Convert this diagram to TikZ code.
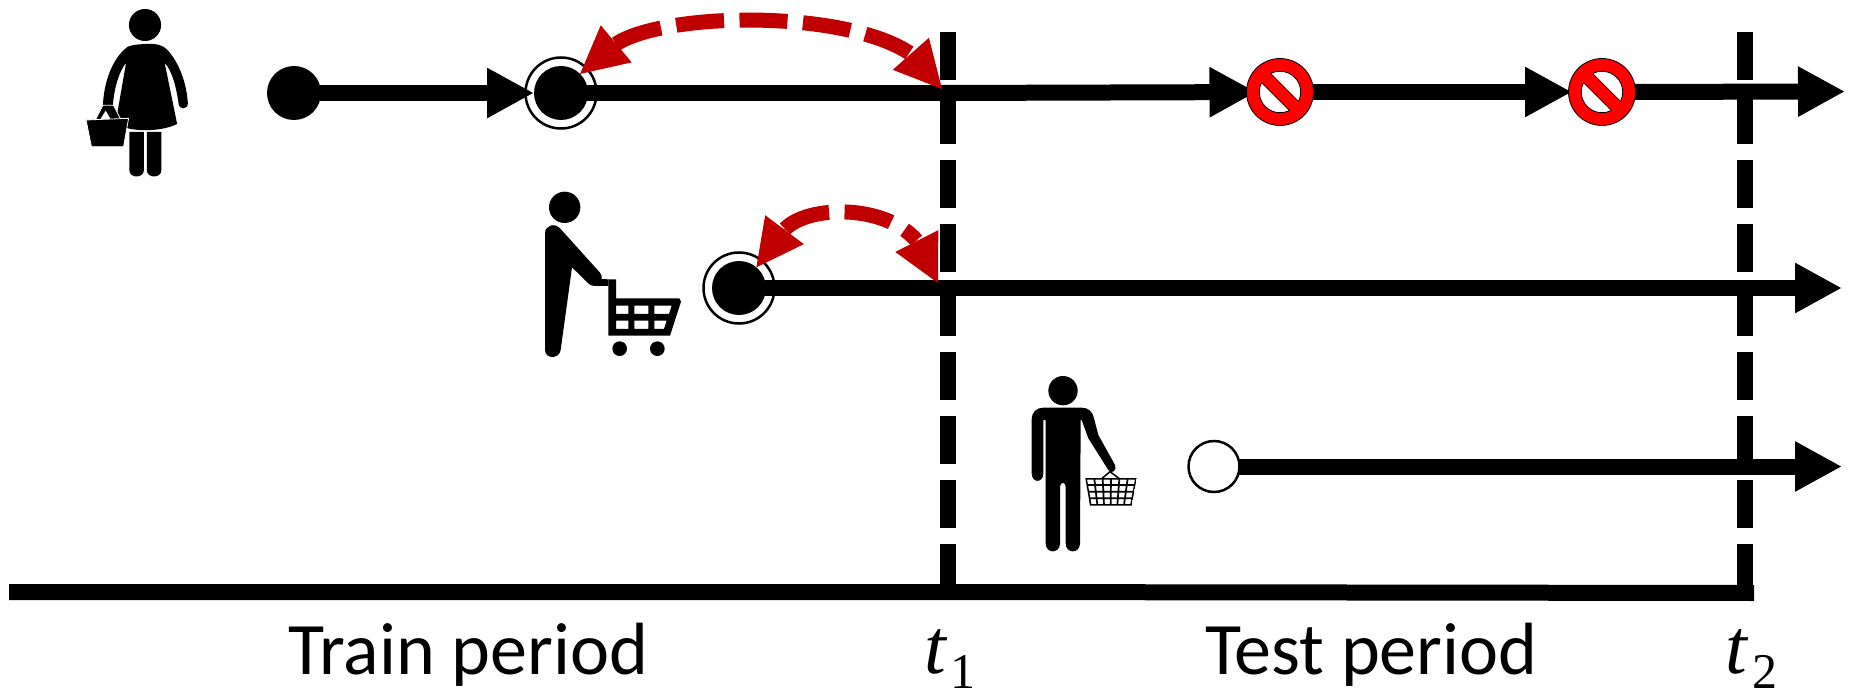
\documentclass[tikz,border=0pt]{standalone}
\usepackage{fontspec}
\newfontfamily\labelfont{Carlito}
\newfontfamily\varfont{Liberation Serif}
\usetikzlibrary{arrows.meta,shapes.geometric}
\definecolor{darkred}{HTML}{C00000}
\definecolor{signred}{HTML}{FF0000}
\tikzset{
  tl/.style={line width=16pt,draw=black,shorten <=-1.2pt},
  tlarrow/.style={tl,-{Triangle[length=47pt,width=47pt]}},
  period/.style={line width=16pt,draw=black,dash pattern=on 48pt off 16pt},
  dot/.style={circle,fill=black,inner sep=0pt,outer sep=0pt,minimum size=54pt},
  ring/.style={circle,draw=black,line width=2.5pt,fill=white,inner sep=0pt,outer sep=0pt,minimum size=71pt},
  opendot/.style={circle,draw=black,line width=2.5pt,fill=white,inner sep=0pt,outer sep=0pt,minimum size=51pt},
  signspot/.style={circle,inner sep=0pt,outer sep=0pt,minimum size=67pt},
  nosign/.style={circle,draw=black,line width=.8pt,fill=signred,inner sep=0pt,outer sep=0pt,minimum size=67pt},
  gapline/.style={line width=15pt,draw=darkred,dash pattern=on 48pt off 15.5pt},
  gaphead/.style={line width=1pt,draw=darkred,-{Triangle[length=47pt,width=48pt]}},
  word/.style={anchor=base west,inner sep=0pt,font=\labelfont\fontsize{74}{80}\selectfont},
  tvar/.style={anchor=base west,inner sep=0pt,font=\varfont\fontsize{78}{80}\selectfont\itshape},
  tsub/.style={anchor=base west,inner sep=0pt,font=\varfont\fontsize{50}{56}\selectfont},
}
\newcommand\nosym[3]{%
  \node[nosign] (#1) at (#2,#3) {};
  \fill[white,draw=black,line width=.8pt] (#2,#3) circle (20.7pt);
  \begin{scope}
    \clip (#2,#3) circle (20.7pt);
    \draw[black,line width=13.6pt] ([shift={(-22,-22)}]#2,#3) -- ([shift={(22,22)}]#2,#3);
  \end{scope}
  \begin{scope}
    \clip (#2,#3) circle (22pt);
    \draw[signred,line width=12pt] ([shift={(-22,-22)}]#2,#3) -- ([shift={(22,22)}]#2,#3);
  \end{scope}
}
\begin{document}
\begin{tikzpicture}[x=1pt,y=-1pt]
\useasboundingbox (0,0) rectangle (1850,690);

% period markers
\coordinate (t1top) at (948,32);
\coordinate (t1bot) at (948,592);
\coordinate (t2top) at (1745,32);
\coordinate (t2bot) at (1745,592);
\draw[period] (t1top) -- (t1bot);
\draw[period] (t2top) -- (t2bot);

% axis
\coordinate (axl) at (9,592);
\coordinate (axr) at (1754,593);
\draw[line width=16pt] (axl) -- (t1bot) -- (axr);

% customer nodes
\node[dot] (d1) at (294,93) {};
\node[ring] (r2) at (561,93) {};
\node[dot] (d2) at (561,93) {};
\node[ring] (r3) at (739,288) {};
\node[dot] (d3) at (739,288) {};
\node[opendot] (o1) at (1214,466.5) {};
\node[signspot] (s1) at (1280,92) {};
\node[signspot] (s2) at (1602,92) {};
\coordinate (e1) at (1845,91.5);
\coordinate (e2) at (1842,288);
\coordinate (e3) at (1842,466.5);
\coordinate (m1) at (942,89);
\coordinate (m2) at (938,283);
\coordinate (a1) at (616,44);
\coordinate (b1) at (911,54);
\coordinate (a2) at (785,229);
\coordinate (b2) at (916.5,240.5);

% timelines
\draw[tlarrow] (d1) -- (d2);
\draw[tl] (d2) -- (m1 |- d2);
\draw[tlarrow,shorten >=-10pt] (m1 |- d2) -- (s1);
\draw[tlarrow,shorten >=-3.5pt] (s1) -- (s2);
\draw[tlarrow] (s2) -- (e1);
\draw[tlarrow] (d3) -- (e2);
\draw[tlarrow] (o1) -- (e3);
\nosym{n1}{1280}{92}
\nosym{n2}{1602}{92}

% red gaps
\draw[gapline] (a1) .. controls (665,12) and (845,9) .. (b1);
\draw[gaphead] (a1) -- (d2.45);
\draw[gaphead] (b1) -- (m1);
\draw[gapline] (a2) .. controls (808,205) and (885,204) .. (b2);
\draw[gaphead] (a2) -- (d3.50);
\draw[gaphead] (b2) -- (m2);

% woman with basket
\begin{scope}[shift={(60,0)},x=0.35714pt,y=-0.33333pt]
  \fill (238,75) ellipse [x radius=45,y radius=48];
  \fill (240,132) .. controls (270,130) and (290,135) .. (305,155)
    .. controls (340,200) and (355,260) .. (358,310)
    .. controls (358,330) and (332,330) .. (332,310)
    .. controls (325,260) and (315,215) .. (293,188) -- (328,372)
    .. controls (290,392) and (230,395) .. (190,385) -- (158,355) -- (185,188)
    .. controls (165,215) and (150,270) .. (148,320) -- (120,320)
    .. controls (122,250) and (145,175) .. (190,140)
    .. controls (205,133) and (225,133) .. (240,132) -- cycle;
  \fill (194,396) -- (235,396) -- (235,510) .. controls (235,536) and (194,536) .. (194,510) -- cycle;
  \fill (243,396) -- (284,396) -- (284,510) .. controls (284,536) and (243,536) .. (243,510) -- cycle;
  \fill[draw=white,line width=.8pt] (120,316) -- (150,316) -- (172,362) -- (98,362) -- cycle;
  \fill[white] (128,332) -- (113,358) -- (142,358) -- cycle;
  \fill[draw=white,line width=.8pt] (73,360) -- (192,355) -- (178,440) -- (88,440) -- cycle;
\end{scope}

% man with trolley
\begin{scope}[shift={(500,170)},x=0.33333pt,y=-0.33333pt]
  \fill (194,112) circle [radius=47];
  \fill (135,190) .. controls (135,165) and (165,158) .. (180,175) -- (300,308)
    .. controls (305,315) and (306,320) .. (305,327) -- (325,328) -- (325,348) -- (285,348)
    .. controls (275,348) and (270,345) .. (265,340) -- (216,292) -- (182,540)
    .. controls (178,568) and (135,568) .. (135,540) -- cycle;
  \fill[even odd rule] (325,328) -- (348,328) -- (348,385) -- (538,385) -- (543,395) -- (510,497) -- (325,497) -- cycle
    (348,407) -- (385,407) -- (385,432) -- (348,432) -- cycle
    (403,407) -- (445,407) -- (445,432) -- (403,432) -- cycle
    (463,407) -- (515,407) -- (507,432) -- (463,432) -- cycle
    (348,452) -- (385,452) -- (385,477) -- (348,477) -- cycle
    (403,452) -- (445,452) -- (445,477) -- (403,477) -- cycle
    (463,452) -- (500,452) -- (492,477) -- (463,477) -- cycle;
  \fill (359,536) circle [radius=22];
  \fill (472,536) circle [radius=22];
\end{scope}

% man with hand basket
\begin{scope}[shift={(1000,370)},x=0.33333pt,y=-0.33333pt]
  \fill (189,62) circle [radius=44];
  \fill (130,113) -- (245,113) .. controls (265,113) and (278,125) .. (282,145) -- (295,195) -- (345,285)
    .. controls (352,300) and (335,315) .. (325,300) -- (265,205) -- (245,150) -- (242,150)
    -- (240,520) .. controls (240,552) and (197,552) .. (197,520) -- (197,350)
    .. controls (197,335) and (180,335) .. (180,350) -- (180,520)
    .. controls (180,552) and (137,552) .. (137,520) -- (137,150) -- (130,150) -- (130,310)
    .. controls (130,340) and (95,340) .. (95,310) -- (95,150)
    .. controls (95,125) and (110,113) .. (130,113) -- cycle;
  \begin{scope}
    \clip (256,324) -- (410,324) -- (395,407) -- (270,407) -- cycle;
    \draw[line width=1.7pt] (258,326) -- (408,326) -- (393,405) -- (272,405) -- cycle;
    \draw[line width=1.7pt] (262,345) -- (404,345) (266,365) -- (400,365) (269,385) -- (397,385)
      (283,326) -- (292,405) (308,326) -- (312,405) (333,326) -- (332,405)
      (358,326) -- (352,405) (383,326) -- (372,405);
  \end{scope}
  \draw[line width=1.5pt] (305,326) -- (330,305) -- (358,326);
\end{scope}

% labels
\node[word] (train) at (288,674) {Train period};
\node[word] (test) at (1205,674) {Test period};
\node[tvar] (tv1) at (924,673) {t};
\node[tsub] (ts1) at (950,688) {1};
\node[tvar] (tv2) at (1725,673) {t};
\node[tsub] (ts2) at (1752,688) {2};
\end{tikzpicture}
\end{document}
